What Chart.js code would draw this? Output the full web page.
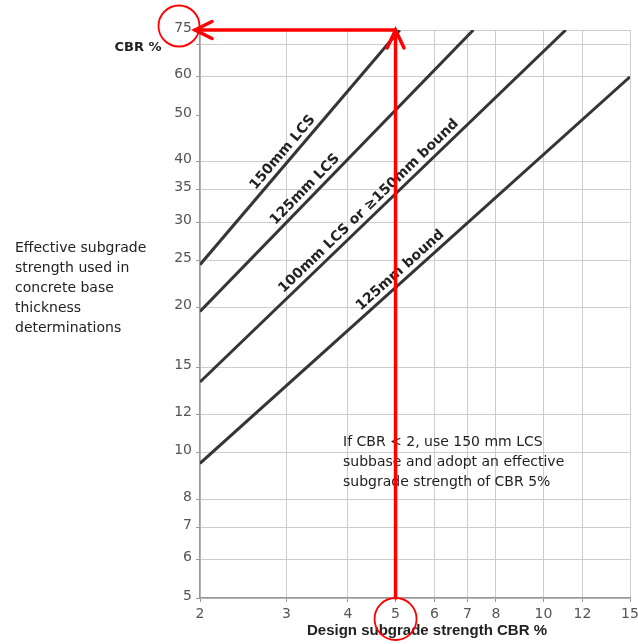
<!DOCTYPE html>
<html>
<head>
<meta charset="utf-8">
<script src="https://cdn.jsdelivr.net/npm/chart.js@4.4.0/dist/chart.umd.min.js"></script>
<style>
  html, body { margin: 0; padding: 0; background: #fff; }
</style>
</head>
<body>
<canvas id="chart" width="638" height="644"></canvas>
<script>
// ticks
const xTicks = [2, 3, 4, 5, 6, 7, 8, 10, 12, 15];
const yTicks = [5, 6, 7, 8, 10, 12, 15, 20, 25, 30, 35, 40, 50, 60, 70, 75];
const yNoLabel = [70];
const yNoGrid = [50];

// design curves (x = design CBR, y = effective CBR)
const seriesNames = ['150mm LCS', '125mm LCS', '100mm LCS or \u2265150mm bound', '125mm bound'];
const lcs150X = [2, 5.1];
const lcs150Y = [24.5, 75];
const lcs125X = [2, 7.2];
const lcs125Y = [19.6, 75];
const lcs100X = [2, 11.1];
const lcs100Y = [14, 75];
const bound125X = [2, 15];
const bound125Y = [9.5, 60];
// where along each curve its name sits (x value)
const labelAtX = [3.05, 3.38, 4.55, 5.27];

// red worked example: CBR 5 up to the 150mm LCS line, then across to 75
const guideX = [5, 5, 2];
const guideY = [5, 75, 75];

const noteLines = ['If CBR < 2, use 150 mm LCS', 'subbase and adopt an effective', 'subgrade strength of CBR 5%'];
const sideLines = ['Effective subgrade', 'strength used in', 'concrete base', 'thickness', 'determinations'];

Chart.defaults.font.family = "'DejaVu Sans', sans-serif";

function pts(xs, ys) {
    return xs.map((x, i) => ({ x: x, y: ys[i] }));
}

const curves = [
    pts(lcs150X, lcs150Y),
    pts(lcs125X, lcs125Y),
    pts(lcs100X, lcs100Y),
    pts(bound125X, bound125Y)
];

const annotations = {
    id: 'annotations',
    afterDatasetsDraw(chart) {
        const c = chart.ctx;
        const xs = chart.scales.x;

        // curve names, rotated along each line
        c.save();
        c.fillStyle = '#222';
        c.font = "bold 14px 'DejaVu Sans'";
        c.textAlign = 'center';
        c.textBaseline = 'alphabetic';
        curves.forEach((d, i) => {
            const p = chart.getDatasetMeta(i).data;
            const a = p[0], b = p[1];
            const px = xs.getPixelForValue(labelAtX[i]);
            const t = (px - a.x) / (b.x - a.x);
            const py = a.y + t * (b.y - a.y);
            const ang = Math.atan2(b.y - a.y, b.x - a.x);
            c.save();
            c.translate(px, py);
            c.rotate(ang);
            c.fillText(seriesNames[i], 0, -6);
            c.restore();
        });
        c.restore();

        // note text in the plot
        c.save();
        c.fillStyle = '#222';
        c.font = "14px 'DejaVu Sans'";
        c.textBaseline = 'middle';
        noteLines.forEach((s, i) => c.fillText(s, 343, 442 + i * 20));
        c.restore();
    },
    afterDraw(chart) {
        const c = chart.ctx;
        const xs = chart.scales.x, ys = chart.scales.y;

        // side text + axis titles
        c.save();
        c.fillStyle = '#222';
        c.font = "14px 'DejaVu Sans'";
        c.textBaseline = 'middle';
        sideLines.forEach((s, i) => c.fillText(s, 15, 248 + i * 20));
        c.textAlign = 'center';
        c.font = "bold 15px 'Liberation Sans'";
        c.fillText('Design subgrade strength CBR %', 427, 631);
        c.font = "bold 13px 'DejaVu Sans'";
        c.fillText('CBR %', 138, 48);
        c.restore();

        // red guide with arrow heads
        const g = guideX.map((x, i) => ({ x: xs.getPixelForValue(x), y: ys.getPixelForValue(guideY[i]) }));
        c.save();
        c.strokeStyle = '#ff0000';
        c.lineWidth = 3.5;
        c.lineCap = 'round';
        c.beginPath();
        c.moveTo(g[0].x, g[0].y);
        c.lineTo(g[1].x, g[1].y);
        c.moveTo(g[1].x, g[1].y);
        c.lineTo(g[2].x - 5, g[2].y);
        c.stroke();
        // up arrow
        c.beginPath();
        c.moveTo(g[1].x - 8.5, g[1].y + 18);
        c.lineTo(g[1].x, g[1].y);
        c.lineTo(g[1].x + 8.5, g[1].y + 18);
        c.stroke();
        // left arrow
        const tip = g[2].x - 5;
        c.beginPath();
        c.moveTo(tip + 17, g[2].y - 8.5);
        c.lineTo(tip, g[2].y);
        c.lineTo(tip + 17, g[2].y + 8.5);
        c.stroke();
        // circles round the read values
        c.lineWidth = 1.8;
        c.beginPath();
        c.arc(xs.left - 21, ys.getPixelForValue(75) - 4, 20.5, 0, Math.PI * 2);
        c.stroke();
        c.beginPath();
        c.arc(xs.getPixelForValue(5), ys.bottom + 21, 21, 0, Math.PI * 2);
        c.stroke();
        c.restore();
    }
};

new Chart(document.getElementById('chart'), {
    type: 'scatter',
    data: {
        datasets: curves.map((d, i) => ({
            label: seriesNames[i],
            data: d,
            showLine: true,
            borderColor: '#353535',
            borderWidth: 3,
            pointRadius: 0,
            fill: false
        }))
    },
    options: {
        responsive: false,
        animation: false,
        devicePixelRatio: 1,
        layout: { padding: { top: 30, right: 8, left: 0, bottom: 0 } },
        plugins: {
            legend: { display: false },
            tooltip: { enabled: false }
        },
        scales: {
            x: {
                type: 'logarithmic',
                min: 2,
                max: 15,
                afterBuildTicks: s => { s.ticks = xTicks.map(v => ({ value: v })); },
                afterFit: s => { s.height = 46; s.paddingLeft = 0; s.paddingRight = 0; },
                ticks: {
                    autoSkip: false,
                    maxRotation: 0,
                    color: '#555',
                    font: { size: 14 },
                    padding: 4,
                    callback: v => String(v)
                },
                grid: { color: '#cdcdcd', lineWidth: 1, tickLength: 4, tickColor: '#999' },
                border: { color: '#999', width: 1.5 }
            },
            y: {
                type: 'logarithmic',
                min: 5,
                max: 75,
                afterBuildTicks: s => { s.ticks = yTicks.map(v => ({ value: v })); },
                afterFit: s => { s.width = 200; },
                ticks: {
                    autoSkip: false,
                    color: '#555',
                    font: { size: 14 },
                    padding: 4,
                    labelOffset: -2,
                    callback: v => yNoLabel.includes(v) ? '' : String(v)
                },
                grid: {
                    color: ctx => (ctx.tick && yNoGrid.includes(ctx.tick.value)) ? 'rgba(0,0,0,0)' : '#cdcdcd',
                    lineWidth: 1,
                    tickLength: 4,
                    tickColor: '#999'
                },
                border: { color: '#999', width: 1.5 }
            }
        }
    },
    plugins: [annotations]
});
</script>
</body>
</html>
